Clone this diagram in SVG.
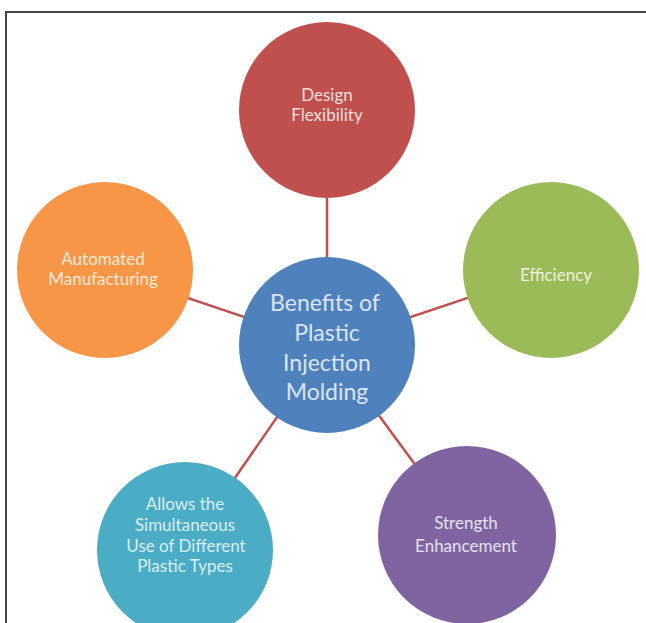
<svg xmlns="http://www.w3.org/2000/svg" width="646" height="623" viewBox="0 0 646 623">
  <style>
    .lbl { font-family: Lato, "Open Sans", "DejaVu Sans", sans-serif; text-anchor: middle; font-size: 17px; }
    .hub { font-size: 23px; }
    .link { stroke: #C0504D; stroke-width: 2.5; fill: none; }
  </style>
  <rect width="646" height="623" fill="#ffffff"/>
  <!-- frame -->
  <path d="M6 623 V12 H646" fill="none" stroke="#444444" stroke-width="2"/>

  <g id="connectors">
    <line class="link" x1="327" y1="345" x2="327" y2="110"/>
    <line class="link" x1="327" y1="345" x2="551" y2="270"/>
    <line class="link" x1="327" y1="345" x2="105" y2="270"/>
    <line class="link" x1="327" y1="345" x2="185" y2="550"/>
    <line class="link" x1="327" y1="345" x2="467" y2="535"/>
  </g>

  <g id="design-flexibility">
    <circle cx="327" cy="110" r="88" fill="#C0504D"/>
    <text class="lbl" x="327" y="101" fill="#F6DEDB">Design</text>
    <text class="lbl" x="327" y="121" fill="#F6DEDB">Flexibility</text>
  </g>

  <g id="efficiency">
    <circle cx="551" cy="270" r="88" fill="#9BBB59"/>
    <text class="lbl" x="556" y="281" fill="#EAF1DD">Efficiency</text>
  </g>

  <g id="automated-manufacturing">
    <circle cx="105" cy="270" r="88" fill="#F79646"/>
    <text class="lbl" x="103" y="265" fill="#FDE9D9">Automated</text>
    <text class="lbl" x="103" y="285" fill="#FDE9D9">Manufacturing</text>
  </g>

  <g id="benefits">
    <circle cx="327" cy="345" r="88" fill="#4F81BD"/>
    <text class="lbl hub" x="325" y="311" fill="#DBE5F1">Benefits of</text>
    <text class="lbl hub" x="327" y="341" fill="#DBE5F1">Plastic</text>
    <text class="lbl hub" x="327" y="371" fill="#DBE5F1">Injection</text>
    <text class="lbl hub" x="327" y="400" fill="#DBE5F1">Molding</text>
  </g>

  <g id="simultaneous-use">
    <circle cx="185" cy="550" r="88" fill="#4BACC6"/>
    <text class="lbl" x="185" y="510" fill="#DAEEF3">Allows the</text>
    <text class="lbl" x="185" y="531" fill="#DAEEF3">Simultaneous</text>
    <text class="lbl" x="186" y="552" fill="#DAEEF3">Use of Different</text>
    <text class="lbl" x="185" y="572" fill="#DAEEF3">Plastic Types</text>
  </g>

  <g id="strength-enhancement">
    <circle cx="467" cy="535" r="89" fill="#8064A2"/>
    <text class="lbl" x="466" y="529" fill="#E5E0EC">Strength</text>
    <text class="lbl" x="466" y="552" fill="#E5E0EC">Enhancement</text>
  </g>
</svg>
